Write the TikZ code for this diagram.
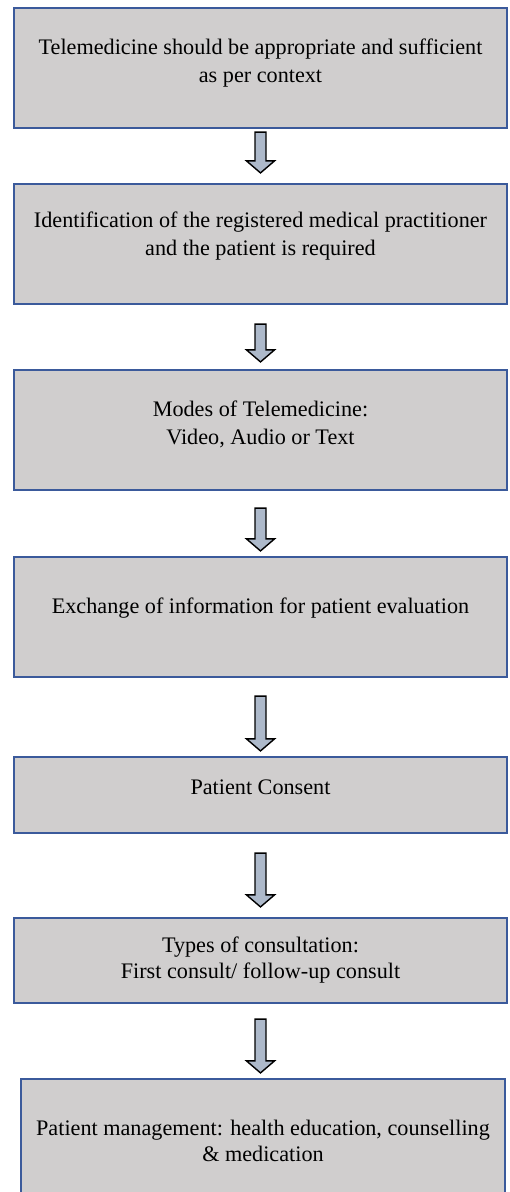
\documentclass[tikz,border=0pt]{standalone}
\usepackage{fontspec}
\setmainfont{Liberation Serif}
\usetikzlibrary{calc}

\definecolor{boxgray}{RGB}{208,206,206}
\definecolor{boxblue}{RGB}{59,90,155}
\definecolor{arrowfill}{RGB}{173,185,202}

% hollow block arrow from the bottom of #1 to the top of #2 (#3, #4: gaps)
\newcommand{\flowarrow}[4]{%
  \path[draw=black, line width=1.4pt, fill=arrowfill, line join=miter]
    let \p1=(#1.south), \p2=(#2.north) in
    (\x1-5.5pt,\y1-#3pt) -- (\x1+5.5pt,\y1-#3pt) -- (\x1+5.5pt,\y2+#4pt+12pt)
    -- (\x1+14pt,\y2+#4pt+12pt) -- (\x1,\y2+#4pt) -- (\x1-14pt,\y2+#4pt+12pt)
    -- (\x1-5.5pt,\y2+#4pt+12pt) -- cycle;}

\begin{document}
\begin{tikzpicture}[x=1pt,y=-1pt]
\useasboundingbox (0,0) rectangle (509,1192);
\clip (0,0) rectangle (509,1192);

\begin{scope}[every node/.style={rectangle, draw=boxblue, line width=2.2pt, fill=boxgray,
                                 inner sep=0pt, minimum width=493pt}]
    \node (telemed) at (260.5, 68) [minimum height=120pt] {};
    \node (ident) at (260.5, 244) [minimum height=120pt] {};
    \node (modes) at (260.5, 430) [minimum height=120pt] {};
    \node (exchange) at (260.5, 617) [minimum height=120pt] {};
    \node (consent) at (260.5, 795) [minimum height=76pt] {};
    \node (consult) at (260.5, 960.5) [minimum height=85pt] {};
    \node (manage) at (263, 1144) [minimum height=130pt, minimum width=484pt] {};
\end{scope}

\begin{scope}[every node/.style={align=center, inner sep=0pt,
                                 font=\fontsize{22.2}{28}\selectfont}]
    \node (telemedtext) at (260.5, 63)
        {Telemedicine should be appropriate and sufficient\\as per context};
    \node (identtext) at (260.5, 236)
        {Identification of the registered medical practitioner\\and the patient is required};
    \node (modestext) at (260.5, 424) {Modes of Telemedicine:\\Video, Audio or Text};
    \node (exchangetext) at (260.5, 608) {Exchange of information for patient evaluation};
    \node (consenttext) at (260.5, 787) {Patient Consent};
    \node (consulttext) at (260.5, 960) [font=\fontsize{22.2}{26}\selectfont]
        {Types of consultation:\\First consult/ follow-up consult};
    \node (managetext) at (263, 1141) [font=\fontsize{22.2}{26}\selectfont]
        {Patient management: health education, counselling\\\& medication};
\end{scope}

\flowarrow{telemed}{ident}{3}{10}
\flowarrow{ident}{modes}{19}{7}
\flowarrow{modes}{exchange}{17}{5}
\flowarrow{exchange}{consent}{18}{5}
\flowarrow{consent}{consult}{19}{10}
\flowarrow{consult}{manage}{15}{5}
\end{tikzpicture}
\end{document}
